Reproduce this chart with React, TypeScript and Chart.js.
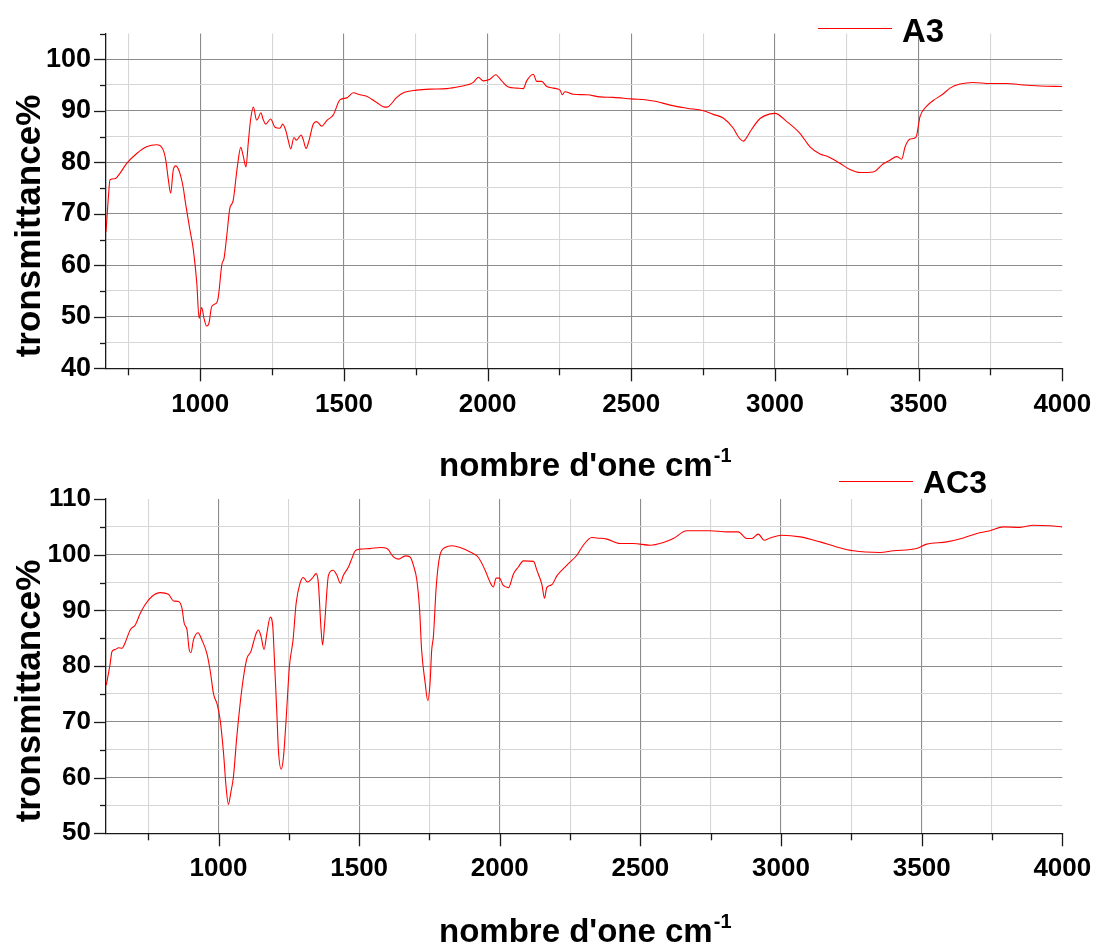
import React, { useEffect, useRef } from 'react';
import { Chart, registerables } from 'chart.js';

Chart.register(...registerables);

// ---------- data ----------
const A3_WAVENUMBER = [
  672, 680, 686, 703, 721, 744, 779, 813, 848, 871, 880, 889, 897, 906, 915, 929, 941, 947, 964, 976,
  988, 996, 1005, 1013, 1022, 1030, 1040, 1057, 1063, 1075, 1083, 1092, 1103, 1111, 1115, 1129, 1141, 1150, 1159, 1167,
  1175, 1185, 1196, 1202, 1211, 1219, 1228, 1245, 1260, 1277, 1287, 1298, 1306, 1315, 1326, 1335, 1351, 1359, 1368, 1379,
  1393, 1405, 1423, 1440, 1463, 1486, 1510, 1533, 1556, 1579, 1614, 1643, 1654, 1684, 1707, 1753, 1799, 1858, 1904, 1927,
  1940, 1950, 1968, 1985, 2008, 2028, 2049, 2072, 2101, 2124, 2136, 2159, 2171, 2188, 2206, 2229, 2252, 2260, 2269, 2298,
  2345, 2391, 2437, 2501, 2554, 2588, 2635, 2693, 2751, 2785, 2820, 2855, 2872, 2890, 2907, 2919, 2948, 2983, 3000, 3041,
  3087, 3122, 3157, 3180, 3226, 3261, 3296, 3342, 3377, 3400, 3424, 3441, 3453, 3470, 3491, 3505, 3528, 3551, 3586, 3609,
  3644, 3690, 3748, 3806, 3864, 3922, 4000,
];
const A3_TRANSMITTANCE = [
  66.5, 73.0, 76.6, 76.8, 77.9, 79.8, 81.7, 83.0, 83.4, 82.4, 80.4, 76.6, 74.0, 78.5, 79.3, 77.9, 75.0, 72.7, 66.9, 63.0,
  56.5, 49.7, 51.8, 49.7, 48.2, 48.7, 52.0, 52.7, 53.9, 60.1, 61.4, 65.6, 71.1, 72.0, 72.7, 79.1, 82.9, 81.1, 79.1, 83.7,
  88.2, 90.7, 88.2, 88.6, 89.6, 88.3, 87.4, 88.4, 86.8, 86.6, 87.4, 86.1, 84.3, 82.6, 84.8, 84.3, 85.3, 84.3, 82.7, 84.3,
  87.4, 87.9, 87.0, 88.1, 89.2, 92.1, 92.5, 93.5, 93.1, 92.8, 91.6, 90.7, 90.8, 92.6, 93.5, 94.0, 94.2, 94.3, 94.7, 95.0,
  95.2, 95.5, 96.5, 95.8, 96.1, 97.0, 95.8, 94.6, 94.4, 94.3, 95.8, 97.1, 95.7, 95.7, 94.7, 94.4, 94.0, 93.1, 93.7, 93.2,
  93.1, 92.7, 92.6, 92.3, 92.1, 91.8, 91.1, 90.5, 90.0, 89.3, 88.6, 86.6, 85.0, 84.1, 85.3, 86.4, 88.5, 89.4, 89.5, 87.9,
  85.6, 83.0, 81.6, 81.2, 79.8, 78.6, 78.0, 78.1, 79.7, 80.4, 81.1, 80.6, 83.0, 84.5, 84.9, 88.9, 90.9, 92.0, 93.3, 94.4,
  95.2, 95.5, 95.3, 95.3, 95.0, 94.8, 94.7,
];

const AC3_WAVENUMBER = [
  601, 615, 621, 633, 645, 657, 668, 686, 704, 722, 740, 763, 793, 822, 840, 858, 870, 878, 888, 896,
  902, 911, 927, 941, 959, 971, 982, 996, 1006, 1018, 1027, 1035, 1044, 1053, 1065, 1077, 1089, 1101, 1115, 1124,
  1134, 1142, 1151, 1162, 1172, 1184, 1193, 1199, 1208, 1213, 1223, 1231, 1241, 1252, 1265, 1276, 1290, 1302, 1316, 1332,
  1347, 1355, 1364, 1370, 1377, 1391, 1407, 1421, 1433, 1444, 1462, 1474, 1486, 1504, 1539, 1575, 1599, 1622, 1640, 1664,
  1681, 1693, 1705, 1715, 1722, 1735, 1744, 1752, 1758, 1764, 1774, 1786, 1806, 1830, 1859, 1895, 1924, 1948, 1966, 1977,
  1987, 1999, 2011, 2031, 2049, 2066, 2084, 2120, 2132, 2150, 2159, 2167, 2185, 2203, 2238, 2274, 2297, 2327, 2345, 2381,
  2428, 2475, 2535, 2582, 2617, 2665, 2712, 2748, 2807, 2848, 2878, 2896, 2919, 2940, 2961, 3003, 3068, 3139, 3198, 3257,
  3352, 3399, 3482, 3518, 3589, 3648, 3696, 3743, 3790, 3850, 3897, 3956, 4000,
];
const AC3_TRANSMITTANCE = [
  76.6, 80.5, 82.6, 83.0, 83.3, 83.2, 84.2, 86.5, 87.4, 89.5, 91.1, 92.5, 93.2, 92.9, 91.7, 91.6, 90.4, 87.7, 86.5, 82.9,
  82.4, 84.7, 86.0, 84.7, 82.2, 79.0, 75.1, 73.0, 70.3, 64.3, 58.3, 55.2, 57.4, 60.1, 67.3, 73.3, 78.1, 81.4, 82.6, 84.2,
  85.9, 86.5, 85.4, 83.0, 85.9, 88.8, 87.1, 81.0, 70.9, 64.9, 61.5, 63.7, 70.9, 79.9, 84.7, 91.3, 94.9, 95.9, 95.1, 95.7,
  96.6, 94.9, 87.1, 83.8, 87.4, 96.3, 97.2, 96.3, 94.9, 96.3, 97.8, 99.3, 100.7, 101.0, 101.1, 101.3, 101.1, 99.6, 99.2, 99.8,
  99.6, 98.1, 95.5, 90.1, 83.0, 76.9, 73.8, 76.9, 82.9, 85.3, 94.2, 99.6, 101.3, 101.6, 101.3, 100.5, 99.5, 97.2, 95.0, 94.2,
  95.8, 95.8, 94.6, 94.1, 96.6, 97.8, 98.9, 98.8, 97.2, 94.6, 92.2, 94.1, 94.6, 96.2, 98.1, 99.9, 101.7, 103.1, 103.0, 102.8,
  102.0, 102.0, 101.7, 102.2, 102.9, 104.3, 104.3, 104.3, 104.1, 104.1, 102.9, 102.9, 103.7, 102.6, 103.0, 103.5, 103.2, 102.3, 101.4, 100.7,
  100.4, 100.7, 101.1, 101.9, 102.3, 103.0, 103.8, 104.3, 105.0, 104.9, 105.3, 105.2, 105.0,
];

const X_TICKS = [750, 1000, 1250, 1500, 1750, 2000, 2250, 2500, 2750, 3000, 3250, 3500, 3750, 4000];
const A3_Y_TICKS = [40, 45, 50, 55, 60, 65, 70, 75, 80, 85, 90, 95, 100, 105];
const AC3_Y_TICKS = [50, 55, 60, 65, 70, 75, 80, 85, 90, 95, 100, 105, 110];

// ---------- styles ----------
const FONT = "'Liberation Sans', Arial, Helvetica, sans-serif";
const AXIS_COLOR = '#1a1a1a';
const MAJOR_GRID = '#8c8c8c';
const MINOR_GRID = '#d6d6d6';
const LINE_COLOR = '#ff0000';

const tickMarks = {
  id: 'tickMarks',
  afterDraw(chart: any) {
    const ctx = chart.ctx;
    const xs = chart.scales.x;
    const ys = chart.scales.y;
    const area = chart.chartArea;
    ctx.save();
    ctx.strokeStyle = AXIS_COLOR;
    ctx.lineWidth = 1.3;
    xs.ticks.forEach((t: any) => {
      const px = Math.round(xs.getPixelForValue(t.value)) + 0.5;
      const len = t.value % 500 === 0 ? 13 : 7;
      ctx.beginPath();
      ctx.moveTo(px, area.bottom);
      ctx.lineTo(px, area.bottom + len);
      ctx.stroke();
    });
    ys.ticks.forEach((t: any) => {
      const py = Math.round(ys.getPixelForValue(t.value)) + 0.5;
      const len = t.value % 10 === 0 ? 12 : 6;
      ctx.beginPath();
      ctx.moveTo(area.left, py);
      ctx.lineTo(area.left - len, py);
      ctx.stroke();
    });
    ctx.restore();
  },
};

type SpectrumProps = {
  xs: number[];
  ys: number[];
  xMin: number;
  yMin: number;
  yMax: number;
  yTicks: number[];
  top: number;
  height: number;
  padTop: number;
  xAxisHeight: number;
  xLabelPad: number;
  yLabelSize: number;
  xLabelSize: number;
};

function Spectrum(p: SpectrumProps) {
  const ref = useRef<HTMLCanvasElement>(null);
  useEffect(() => {
    const chart = new Chart(ref.current as HTMLCanvasElement, {
      type: 'line',
      data: {
        datasets: [
          {
            data: p.xs.map((x, i) => ({ x, y: p.ys[i] })),
            borderColor: LINE_COLOR,
            borderWidth: 1.1,
            pointRadius: 0,
            fill: false,
            cubicInterpolationMode: 'monotone',
          },
        ],
      },
      options: {
        responsive: false,
        animation: false,
        events: [],
        layout: { padding: { left: 0, right: 33.7, top: p.padTop, bottom: 0 } },
        plugins: { legend: { display: false }, tooltip: { enabled: false } },
        scales: {
          x: {
            type: 'linear',
            min: p.xMin,
            max: 4000,
            afterBuildTicks: (s: any) => {
              s.ticks = X_TICKS.map((v) => ({ value: v }));
            },
            afterFit: (s: any) => {
              s.height = p.xAxisHeight;
              s.paddingLeft = 0;
              s.paddingRight = 0;
            },
            grid: {
              drawTicks: false,
              lineWidth: 1.1,
              color: (c: any) => {
                const v = c.tick ? c.tick.value : 0;
                if (v >= 4000) return 'rgba(0,0,0,0)';
                return v % 500 === 0 ? MAJOR_GRID : MINOR_GRID;
              },
            },
            border: { display: true, color: AXIS_COLOR, width: 1.3 },
            ticks: {
              autoSkip: false,
              maxRotation: 0,
              minRotation: 0,
              padding: p.xLabelPad,
              color: '#000',
              font: { family: FONT, size: p.xLabelSize, weight: 'bold' },
              callback: (v: any) => (Number(v) % 500 === 0 ? String(v) : ''),
            },
          },
          y: {
            type: 'linear',
            min: p.yMin,
            max: p.yMax,
            afterBuildTicks: (s: any) => {
              s.ticks = p.yTicks.map((v) => ({ value: v }));
            },
            afterFit: (s: any) => {
              s.width = 106;
              s.paddingTop = 0;
              s.paddingBottom = 0;
            },
            grid: {
              drawTicks: false,
              lineWidth: 1.1,
              color: (c: any) => {
                const v = c.tick ? c.tick.value : 0;
                if (v <= p.yMin || v >= p.yMax) return 'rgba(0,0,0,0)';
                return v % 10 === 0 ? MAJOR_GRID : MINOR_GRID;
              },
            },
            border: { display: true, color: AXIS_COLOR, width: 1.3 },
            ticks: {
              autoSkip: false,
              padding: 15,
              color: '#000',
              font: { family: FONT, size: p.yLabelSize, weight: 'bold' },
              callback: (v: any) => (Number(v) % 10 === 0 ? String(v) : ''),
            },
          },
        },
      } as any,
      plugins: [tickMarks],
    });
    return () => chart.destroy();
  }, []);
  return (
    <canvas
      ref={ref}
      width={1096}
      height={p.height}
      style={{ position: 'absolute', left: 0, top: p.top, display: 'block' }}
    />
  );
}

const textBase: React.CSSProperties = {
  position: 'absolute',
  fontFamily: FONT,
  fontWeight: 'bold',
  color: '#000',
  whiteSpace: 'nowrap',
  lineHeight: 1,
};

function YTitle({ cx, cy }: { cx: number; cy: number }) {
  return (
    <div
      style={{
        ...textBase,
        fontSize: 35,
        left: cx,
        top: cy,
        transform: 'translate(-50%, -50%) rotate(-90deg)',
      }}
    >
      tronsmittance%
    </div>
  );
}

function XTitle({ left, top }: { left: number; top: number }) {
  return (
    <div style={{ ...textBase, fontSize: 33, left, top }}>
      nombre d'one cm
      <span style={{ fontSize: 20, position: 'relative', top: -14, marginLeft: 1 }}>-1</span>
    </div>
  );
}

function LegendEntry({ lineLeft, lineY, textLeft, textTop, size, label }: any) {
  return (
    <>
      <div
        style={{
          position: 'absolute',
          left: lineLeft,
          top: lineY,
          width: 74,
          height: 0,
          borderTop: `1px solid ${LINE_COLOR}`,
        }}
      />
      <div style={{ ...textBase, fontSize: size, left: textLeft, top: textTop }}>{label}</div>
    </>
  );
}

export default function App() {
  return (
    <div
      style={{
        position: 'absolute',
        left: 0,
        top: 0,
        width: 1096,
        height: 943,
        background: '#fff',
        overflow: 'hidden',
      }}
    >
      <Spectrum
        xs={A3_WAVENUMBER}
        ys={A3_TRANSMITTANCE}
        xMin={672}
        yMin={40}
        yMax={105}
        yTicks={A3_Y_TICKS}
        top={0}
        height={470}
        padTop={33.5}
        xAxisHeight={101.7}
        xLabelPad={21}
        yLabelSize={27}
        xLabelSize={26}
      />
      <Spectrum
        xs={AC3_WAVENUMBER}
        ys={AC3_TRANSMITTANCE}
        xMin={600}
        yMin={50}
        yMax={110}
        yTicks={AC3_Y_TICKS}
        top={470}
        height={473}
        padTop={29}
        xAxisHeight={109.7}
        xLabelPad={20}
        yLabelSize={26}
        xLabelSize={26}
      />
      <YTitle cx={27} cy={225.5} />
      <YTitle cx={27} cy={690.5} />
      <XTitle left={439} top={448} />
      <XTitle left={439} top={914} />
      <LegendEntry lineLeft={818} lineY={28} textLeft={902} textTop={14} size={33} label="A3" />
      <LegendEntry lineLeft={839} lineY={481} textLeft={923} textTop={466} size={32} label="AC3" />
    </div>
  );
}
